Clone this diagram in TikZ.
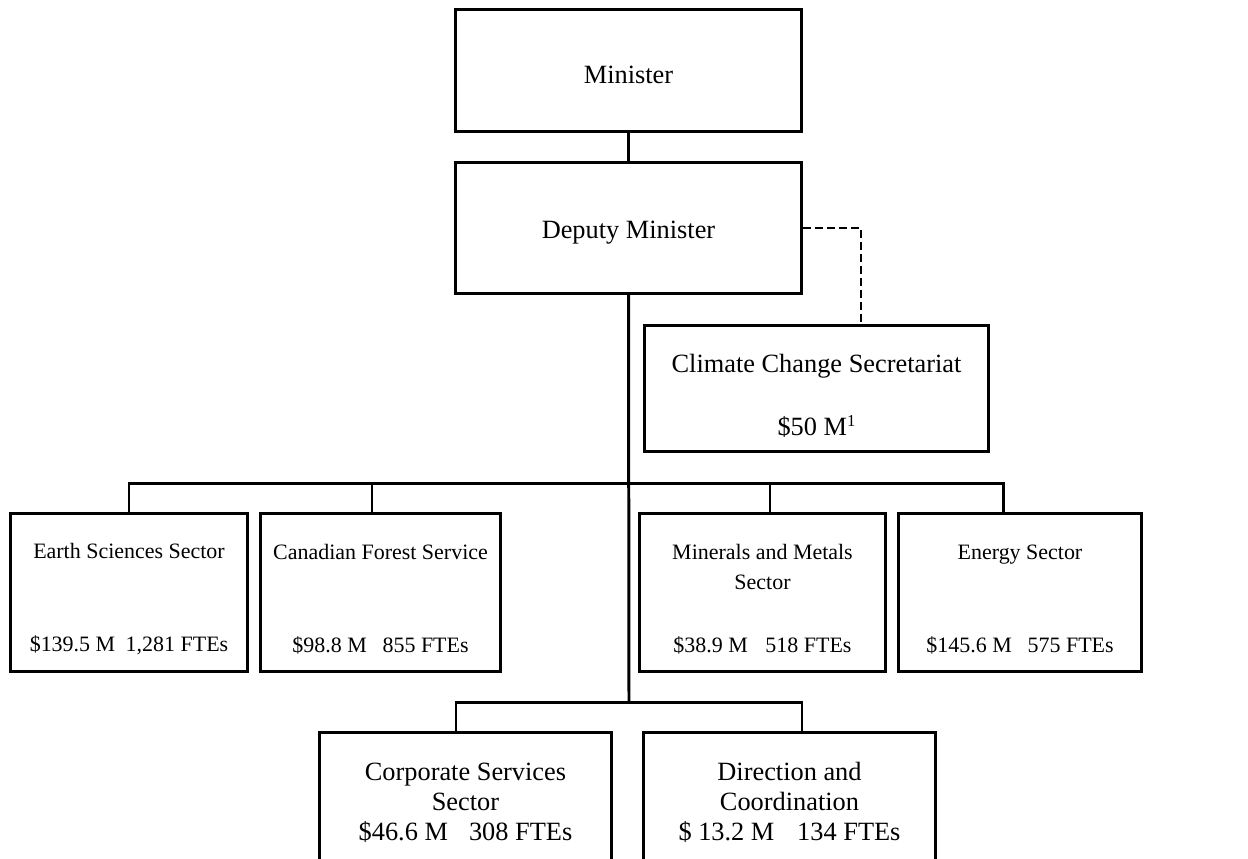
\documentclass[tikz,border=0pt]{standalone}
\usepackage{fontspec}
\setmainfont{Liberation Serif}
\tikzset{orgbox/.style={draw, line width=1.7pt, align=center, inner sep=2pt,
    font=\fontsize{12.5}{17}\selectfont},
  bigbox/.style={orgbox, font=\fontsize{15}{17}\selectfont},
  orgline/.style={line width=1.7pt}}

\begin{document}
\begin{tikzpicture}[x=0.02cm, y=-0.02cm]
    \useasboundingbox (0,0) rectangle (1248,859);
    \clip (0,0) rectangle (1248,859);
    % top of the chart
    \node[bigbox, minimum width=6.94cm, minimum height=2.46cm] (minister) at (628.5,70.5) {\rule{0pt}{15pt}Minister};
    \node[bigbox, minimum width=6.94cm, minimum height=2.62cm] (deputy) at (628.5,228) {\rule{0pt}{15.5pt}Deputy Minister};
    \node[bigbox, minimum width=6.9cm, minimum height=2.52cm] (climate) at (816.5,388.5)
        {\rule{0pt}{19pt}Climate Change Secretariat\\[18.7pt]\$50 M\raisebox{5pt}{\fontsize{9.5}{10}\selectfont 1}};
    % sectors
    \node[orgbox, minimum width=4.76cm, minimum height=3.18cm] (earth) at (129,592.5)
        {\rule{0pt}{16pt}Earth Sciences Sector\\[36pt]\$139.5 M\hspace{6pt}1,281 FTEs};
    \node[orgbox, minimum width=4.82cm, minimum height=3.18cm] (forest) at (380.5,592.5)
        {\rule{0pt}{16pt}Canadian Forest Service\\[36pt]\$98.8 M\hspace{9pt}855 FTEs};
    \node[orgbox, minimum width=4.92cm, minimum height=3.18cm] (minerals) at (762.5,592.5)
        {\rule{0pt}{16pt}Minerals and Metals\\Sector\\[19pt]\$38.9 M\hspace{10pt}518 FTEs};
    \node[orgbox, minimum width=4.88cm, minimum height=3.18cm] (energy) at (1020,592.5)
        {\rule{0pt}{16pt}Energy Sector\\[36pt]\$145.6 M\hspace{9pt}575 FTEs};
    % bottom row, cut off by the page
    \node[bigbox, minimum width=5.86cm, minimum height=2.68cm] (corporate) at (465.5,799)
        {\rule{0pt}{14.5pt}Corporate Services\\Sector\\\$46.6 M\hspace{12pt}308 FTEs};
    \node[bigbox, minimum width=5.86cm, minimum height=2.68cm] (direction) at (789.5,799)
        {\rule{0pt}{14.5pt}Direction and\\Coordination\\\$ 13.2 M\hspace{13pt}134 FTEs};
    \coordinate (bar) at (629,483);
    \coordinate (foot) at (629,702);
    \draw[orgline] (minister) -- (deputy);
    \draw[orgline] (deputy.south) -- (foot);
    \draw[orgline, dash pattern=on 4.5pt off 2.3pt] (deputy.east) -| ([xshift=0.89cm]climate.north);
    \draw[orgline] (earth.north) |- (bar);
    \draw[orgline] ([xshift=-0.34cm]energy.north) |- (bar);
    \draw[orgline] ([xshift=-0.17cm]forest.north) -- ([xshift=-0.17cm]forest.north |- bar);
    \draw[orgline] ([xshift=0.15cm]minerals.north) -- ([xshift=0.15cm]minerals.north |- bar);
    \draw[orgline] ([xshift=-0.19cm]corporate.north) |- (foot);
    \draw[orgline] ([xshift=0.25cm]direction.north) |- (foot);
\end{tikzpicture}
\end{document}
